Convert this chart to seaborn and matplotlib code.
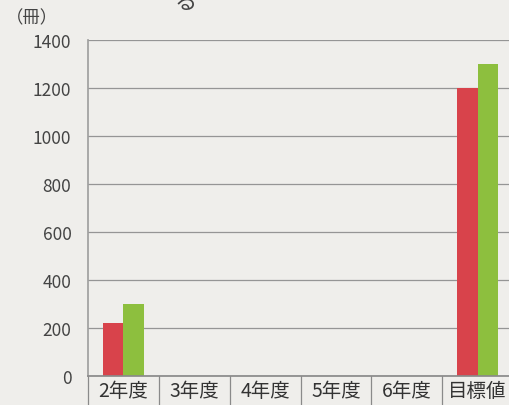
import pandas as pd
import numpy as np
import matplotlib.pyplot as plt
import matplotlib.transforms as mtransforms
import seaborn as sns

categories = ["2年度", "3年度", "4年度", "5年度", "6年度", "目標値"]
series_a = [220, np.nan, np.nan, np.nan, np.nan, 1200]
series_b = [300, np.nan, np.nan, np.nan, np.nan, 1300]
series_names = ["A", "B"]
yticks = [0, 200, 400, 600, 800, 1000, 1200, 1400]

df = pd.DataFrame({
    "cat": categories * 2,
    "value": series_a + series_b,
    "series": [series_names[0]] * len(categories) + [series_names[1]] * len(categories),
})

sns.set_theme(style="white")
plt.rcParams["font.family"] = ["Noto Sans CJK JP", "DejaVu Sans"]

paper = "#efeeeb"
fig = plt.figure(figsize=(5.09, 4.06), dpi=100, facecolor=paper)
ax = fig.add_axes([0.173, 0.071, 0.835, 0.829])
ax.set_facecolor(paper)

sns.barplot(data=df, x="cat", y="value", hue="series", order=categories,
            palette=["#d8434b", "#8dbf3e"], width=0.57, saturation=1,
            linewidth=0, legend=False, ax=ax)

ax.set_ylim(0, 1400)
ax.set_xlim(-0.5, len(categories) - 0.5)
ax.set_yticks(yticks)
ax.set_yticklabels([str(t) for t in yticks], fontsize=12.5, color="#444444")
ax.tick_params(axis="y", length=0, pad=12)
ax.tick_params(axis="x", length=0, pad=3)
ax.set_xticks(range(len(categories)))
ax.set_xticklabels(categories, fontsize=14, color="#333333")
ax.set_xlabel("")
ax.set_ylabel("")
ax.grid(axis="y", color="#959595", linewidth=0.9)
ax.set_axisbelow(True)
for side in ["top", "right"]:
    ax.spines[side].set_visible(False)
ax.spines["left"].set_color("#a0a0a0")
ax.spines["bottom"].set_color("#8a8a8a")

# table-style separators under the axis
trans = mtransforms.blended_transform_factory(ax.transData, ax.transAxes)
for i in range(len(categories)):
    ax.plot([i - 0.5, i - 0.5], [0, -0.09], transform=trans, color="#8a8a8a",
            linewidth=0.9, clip_on=False)

fig.text(0.012, 0.955, "（冊）", fontsize=12.5, color="#444444", va="center")
fig.text(0.365, 0.995, "る", fontsize=16, color="#444444", va="center", ha="center")

fig.savefig("out.png", dpi=100, facecolor=paper)
